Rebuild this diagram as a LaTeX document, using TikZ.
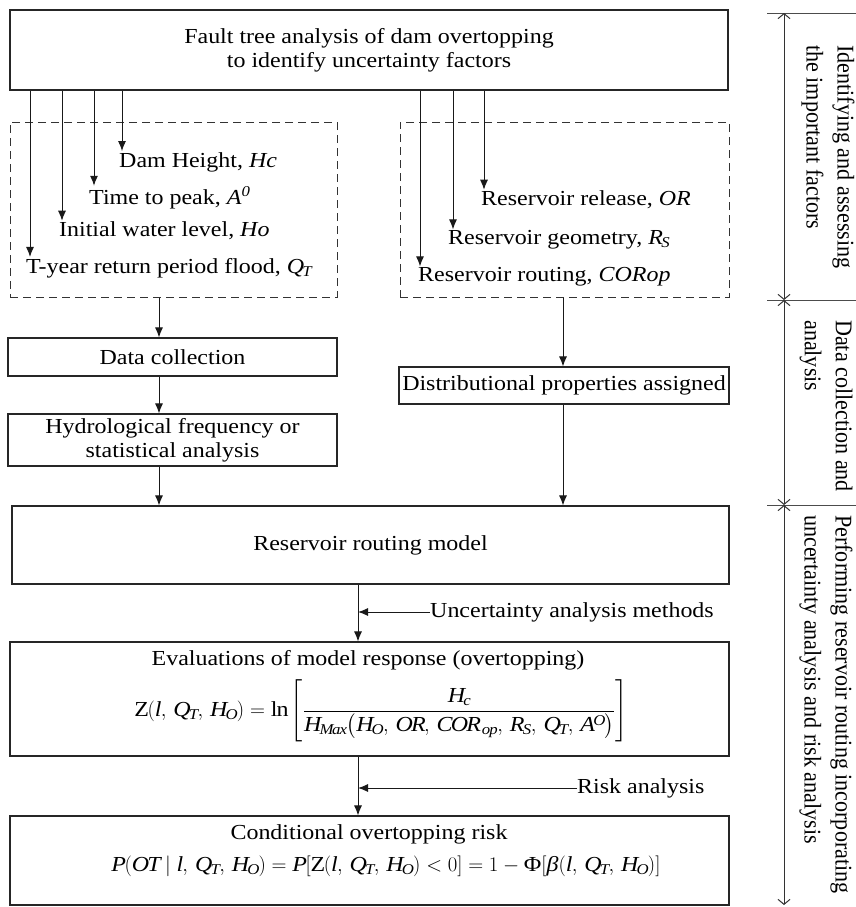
\documentclass[tikz,border=0pt]{standalone}
\usepackage{amsmath}
\usepackage{fontspec}
\setmainfont{Liberation Serif}[FakeStretch=1.12]
\newfontfamily\sidefont{Liberation Serif}[FakeStretch=0.92]
\usetikzlibrary{arrows.meta}
\newcommand{\mainsz}{\fontsize{21.4}{24}\selectfont}
\newcommand{\mv}[1]{\mathit{#1}}
\newcommand{\cm}{,\,}

\tikzset{
  box/.style={draw=black!85, line width=1.1pt, inner sep=0pt, align=center},
  dbox/.style={draw=black!80, dash pattern=on 8pt off 5pt, line width=1pt, inner sep=0pt},
  lab/.style={anchor=west, inner sep=1pt},
  arr/.style={-{Latex[length=10pt,width=8pt]}, line width=1pt, draw=black!90},
  dim/.style={{Straight Barb[length=5pt,width=12pt]}-{Straight Barb[length=5pt,width=12pt]}, line width=1pt, draw=black!80},
  tick/.style={line width=0.8pt, draw=black!70},
  side/.style={rotate=-90, anchor=west, align=left, inner sep=0pt,
               font=\sidefont\fontsize{24}{31}\selectfont},
}

\begin{document}
\begin{tikzpicture}[x=1pt, y=-1pt, font=\mainsz]
\useasboundingbox (0,0) rectangle (856,907);

% fault tree
\node[box, minimum width=718pt, minimum height=80pt] (fta) at (369,50)
  {Fault tree analysis of dam overtopping\\to identify uncertainty factors};

% groups of uncertainty factors
\node[dbox, minimum width=327pt, minimum height=175pt] (lset) at (173.5,209.5) {};
\node[dbox, minimum width=329pt, minimum height=175pt] (rset) at (564.5,209.5) {};

\node[lab] (hc)  at (118,162) {Dam Height, \textit{Hc}};
\node[lab] (ap)  at (88,198)  {Time to peak, \textit{A}$^{\mv{0}}$};
\node[lab] (ho)  at (58,231)  {Initial water level, \textit{Ho}};
\node[lab] (qt)  at (25,268)  {T-year return period flood, $\mv{Q}_{\mv{T}}$};
\node[lab] (or)  at (480,200) {Reservoir release, \textit{OR}};
\node[lab] (rs)  at (447,240) {Reservoir geometry, $\mv{R}_{\mv{S}}$};
\node[lab] (cor) at (417,277) {Reservoir routing, \textit{CORop}};

% arrow columns
\coordinate (x1) at (30,0);
\coordinate (x2) at (62,0);
\coordinate (x3) at (94,0);
\coordinate (x4) at (122,0);
\coordinate (x5) at (420,0);
\coordinate (x6) at (453,0);
\coordinate (x7) at (484,0);
\coordinate (xl) at (159,0);
\coordinate (xr) at (563,0);
\coordinate (xm) at (358,0);

\draw[arr] (fta.south -| x4) -- (hc.north -| x4);
\draw[arr] (fta.south -| x3) -- (ap.north -| x3);
\draw[arr] (fta.south -| x2) -- (ho.north -| x2);
\draw[arr] (fta.south -| x1) -- (qt.north -| x1);
\draw[arr] (fta.south -| x7) -- (or.north -| x7);
\draw[arr] (fta.south -| x6) -- (rs.north -| x6);
\draw[arr] (fta.south -| x5) -- (cor.north -| x5);

% data stage
\node[box, minimum width=329pt, minimum height=38pt] (dc) at (172.5,357) {Data collection};
\node[box, minimum width=329pt, minimum height=52pt] (hf) at (172.5,440)
  {Hydrological frequency or\\statistical analysis};
\node[box, minimum width=330pt, minimum height=37pt] (dp) at (564,385.5)
  {Distributional properties assigned};

% routing and risk
\node[box, minimum width=717pt, minimum height=78pt] (rr) at (370.5,545) {Reservoir routing model};

\node[box, minimum width=719pt, minimum height=114pt] (ev) at (369.5,699) {};
\node[inner sep=1pt] (evt) at (368,660) {Evaluations of model response (overtopping)};
\node[inner sep=0pt] (evf) at (381,711)
  {$\mathrm{Z}(\mv{l}\cm\mv{Q}_{\mv{T}}\cm\mv{H}_{\mv{O}})=\ln\left[\dfrac{\mv{H}_{\mv{c}}}
   {\mv{H}_{\mv{Max}}\bigl(\mv{H}_{\mv{O}}\cm\mv{OR}\cm\mv{COR}_{\,\mv{op}}\cm\mv{R}_{\mv{S}}\cm\mv{Q}_{\mv{T}}\cm\mv{A}^{\mv{O}}\bigr)}\right]$};

\node[box, minimum width=719pt, minimum height=89pt] (cp) at (369.5,860.5) {};
\node (cpt) at (369,834) {Conditional overtopping risk};
\node (cpf) at (386,866)
  {$\mv{P}(\mv{OT}\mid\mv{l}\cm\mv{Q}_{\mv{T}}\cm\mv{H}_{\mv{O}})=\mv{P}[\mathrm{Z}(\mv{l}\cm\mv{Q}_{\mv{T}}\cm\mv{H}_{\mv{O}})<0]=1-\text{Φ}[\text{\textit{β}}(\mv{l}\cm\mv{Q}_{\mv{T}}\cm\mv{H}_{\mv{O}})]$};

\draw[arr] (lset.south -| xl) -- (dc.north -| xl);
\draw[arr] (dc.south -| xl) -- (hf.north -| xl);
\draw[arr] (hf.south -| xl) -- (rr.north -| xl);
\draw[arr] (rset.south -| xr) -- (dp.north -| xr);
\draw[arr] (dp.south -| xr) -- (rr.north -| xr);
\draw[arr] (rr.south -| xm) -- (ev.north -| xm);
\draw[arr] (ev.south -| xm) -- (cp.north -| xm);

\node[anchor=west, inner sep=0pt] (uam) at (430,612) {Uncertainty analysis methods};
\draw[arr] (uam.west) -- (uam.west -| xm);
\node[anchor=west, inner sep=0pt] (ra) at (577,788) {Risk analysis};
\draw[arr] (ra.west) -- (ra.west -| xm);

% stage ruler
\coordinate (r0) at (784,13);
\coordinate (r1) at (784,300);
\coordinate (r2) at (784,505);
\coordinate (r3) at (784,905);
\coordinate (t0) at (767,13);  \coordinate (u0) at (856,13);
\coordinate (t1) at (767,300); \coordinate (u1) at (856,300);
\coordinate (t2) at (767,505); \coordinate (u2) at (856,505);
\draw[tick] (t0) -- (u0);
\draw[tick] (t1) -- (u1);
\draw[tick] (t2) -- (u2);
\draw[dim] (r0) -- (r1);
\draw[dim] (r1) -- (r2);
\draw[dim] (r2) -- (r3);

\node[side] (s1) at (828,45)  {Identifying and assessing\\the important factors};
\node[side] (s2) at (826,320) {Data collection and\\analysis};
\node[side] (s3) at (826,515) {Performing reservoir routing incorporating\\uncertainty analysis and risk analysis};
\end{tikzpicture}
\end{document}
